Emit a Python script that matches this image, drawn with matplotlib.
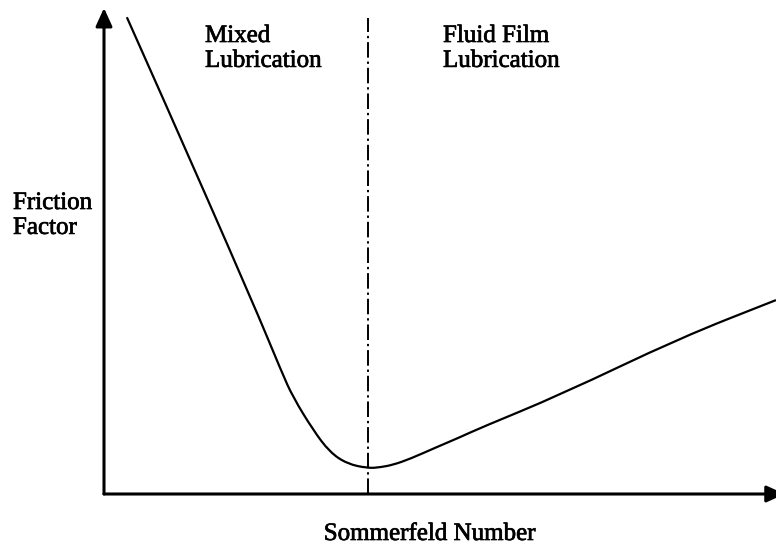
"""
Stribeck-type sketch: friction factor vs Sommerfeld number,
split into mixed and fluid film lubrication regions.
"""

import matplotlib
matplotlib.use("Agg")
import matplotlib.pyplot as plt
import matplotlib.patheffects as pe
from matplotlib.path import Path
from matplotlib.patches import PathPatch

# ──────────────────────────────────────────────────────────────
#  Data (arbitrary units)
# ──────────────────────────────────────────────────────────────
sommerfeld = [0.34, 0.89, 2.20, 2.65, 2.81, 3.11, 3.36, 3.62, 3.93,
              4.11, 4.30, 4.55, 4.96, 5.30, 5.60, 6.79, 8.57, 10.0]
friction = [9.81, 8.11, 3.99, 2.49, 2.00, 1.32, 0.86, 0.62, 0.53,
            0.55, 0.60, 0.72, 0.97, 1.17, 1.36, 2.04, 3.21, 3.99]
boundary = 3.93

region_labels = ["Mixed\nLubrication", "Fluid Film\nLubrication"]
y_label = "Friction\nFactor"
x_label = "Sommerfeld Number"

FONT = "Liberation Serif"
FS = 18

W, H = 776, 550
fig = plt.figure(figsize=(W / 100, H / 100), dpi=100)
# axes spanning the drawn axis lines (pixel 104..776, 8..494)
ax = fig.add_axes([104 / W, (H - 494) / H, (776 - 104) / W, (494 - 8) / H])
ax.set_xlim(0, 10)
ax.set_ylim(0, 10)
ax.axis("off")

# smooth curve: quadratic segments through midpoints, points as controls
pts = list(zip(sommerfeld, friction))
verts, codes = [pts[0]], [Path.MOVETO]
for i in range(1, len(pts) - 1):
    mid = ((pts[i][0] + pts[i + 1][0]) / 2, (pts[i][1] + pts[i + 1][1]) / 2)
    verts += [pts[i], mid]
    codes += [Path.CURVE3, Path.CURVE3]
verts.append(pts[-1])
codes.append(Path.LINETO)
ax.add_patch(PathPatch(Path(verts, codes), facecolor="none",
                       edgecolor="black", lw=1.6, clip_on=False))

# region divider
ax.plot([boundary, boundary], [0, 9.8], color="black", lw=1.4,
        linestyle=(0, (8, 2, 1.2, 2)), clip_on=False)

# axes with arrow heads
arrow = dict(arrowstyle="-|>,head_length=1.1,head_width=0.5",
             color="black", lw=2.2, shrinkA=0, shrinkB=0, mutation_scale=10)
ax.annotate("", xy=(0, 1), xytext=(0, 0), xycoords="axes fraction",
            arrowprops=arrow, annotation_clip=False)
ax.annotate("", xy=(1.013, 0), xytext=(0, 0), xycoords="axes fraction",
            arrowprops=arrow, annotation_clip=False)

# text, placed in figure pixels; slight stroke mimics the heavy print
heavy = [pe.withStroke(linewidth=0.5, foreground="black")]


def ftext(x, y, s, **kw):
    fig.text(x / W, 1 - y / H, s, family=FONT, fontsize=FS,
             linespacing=1.17, path_effects=heavy, **kw)


ftext(205, 25, region_labels[0], ha="left", va="top")
ftext(443, 25, region_labels[1], ha="left", va="top")
ftext(13, 192, y_label, ha="left", va="top")
ftext(430, 540, x_label, ha="center", va="baseline")

fig.savefig("out.png", dpi=100)
